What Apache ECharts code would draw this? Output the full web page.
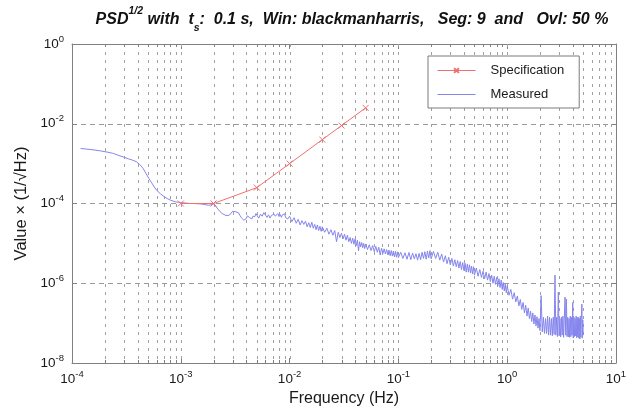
<!DOCTYPE html>
<html>
<head>
<meta charset="utf-8">
<script src="https://cdn.jsdelivr.net/npm/echarts@6/dist/echarts.min.js"></script>
<style>html,body{margin:0;padding:0;background:#fff;}#c{width:640px;height:415px;}</style>
</head>
<body>
<div id="c"></div>
<script>
// ---- data ----
const specFreq = [1e-3, 2e-3, 5e-3, 1e-2, 2e-2, 3e-2, 5e-2];
const specVal  = [1e-4, 1e-4, 2.5e-4, 1e-3, 4e-3, 9e-3, 2.5e-2];

const measured = [
  [1.2e-4,2.4e-3],[1.5e-4,2.25e-3],[1.8e-4,2.1e-3],[2.1e-4,1.95e-3],[2.4e-4,1.8e-3],[2.7e-4,1.6e-3],
  [3.0e-4,1.45e-3],[3.3e-4,1.32e-3],[3.6e-4,1.22e-3],[3.9e-4,1.12e-3],[4.2e-4,9.5e-4],[4.5e-4,7.6e-4],
  [4.8e-4,5.6e-4],[5.1e-4,4.2e-4],[5.4e-4,3.3e-4],[5.7e-4,2.6e-4],[6.0e-4,2.15e-4],[6.5e-4,1.75e-4],
  [7.0e-4,1.5e-4],[7.5e-4,1.33e-4],[8.0e-4,1.22e-4],[8.5e-4,1.15e-4],[9.0e-4,1.1e-4],[9.5e-4,1.07e-4],
  [1.0e-3,1.05e-4],[1.1e-3,1.03e-4],[1.2e-3,1.0e-4],[1.3e-3,1.0e-4],[1.4e-3,9.9e-5],[1.5e-3,9.8e-5],
  [1.6e-3,9.6e-5],[1.7e-3,9.3e-5],[1.8e-3,9.0e-5],[1.9e-3,9.3e-5],[2.0e-3,9.6e-5],[2.1e-3,8.5e-5],
  [2.2e-3,7.2e-5],[2.3e-3,6.2e-5],[2.4e-3,5.6e-5],[2.5e-3,5.2e-5],[2.6e-3,5.0e-5],[2.7e-3,4.9e-5],
  [2.8e-3,5.1e-5],[2.9e-3,5.6e-5],[3.0e-3,6.4e-5],[3.1e-3,6.6e-5],[3.2e-3,6.2e-5],[3.3e-3,6.5e-5],
  [3.4e-3,5.8e-5],[3.5e-3,5.0e-5],[3.6e-3,4.4e-5],[3.7e-3,4.0e-5],[3.8e-3,3.8e-5],[3.9e-3,3.7e-5],
  [4.0e-3,4.2e-5],[4.1e-3,4.9e-5],[4.2e-3,5.0e-5],[4.3e-3,4.4e-5],[4.4e-3,4.6e-5],[4.5e-3,4.1e-5],
  [4.6e-3,4.8e-5],[4.7e-3,5.3e-5],[4.8e-3,4.7e-5],[4.9e-3,5.6e-5],[5.0e-3,5.0e-5],[5.2e-3,4.3e-5],
  [5.4e-3,5.4e-5],[5.6e-3,4.8e-5],[5.8e-3,5.9e-5],[6.0e-3,5.1e-5],[6.2e-3,4.5e-5],[6.4e-3,5.2e-5],
  [6.6e-3,4.3e-5],[6.8e-3,5.0e-5],[7.0e-3,4.6e-5],[7.2e-3,5.4e-5],[7.4e-3,4.8e-5],[7.6e-3,5.1e-5],
  [7.8e-3,5.6e-5],[8.0e-3,4.7e-5],[8.2e-3,5.3e-5],[8.4e-3,4.5e-5],[8.6e-3,5.2e-5],[8.8e-3,4.9e-5],
  [9.0e-3,5.5e-5],[9.2e-3,4.4e-5],[9.4e-3,4.9e-5],[9.6e-3,4.1e-5],[9.8e-3,4.6e-5],
  [0.0100,4.8e-5],[0.0105,3.5e-5],[0.0110,4.4e-5],[0.0115,3.2e-5],[0.0120,4.0e-5],[0.0125,2.9e-5],
  [0.0130,3.7e-5],[0.0135,3.0e-5],[0.0140,3.6e-5],[0.0145,2.6e-5],[0.0150,3.3e-5],[0.0155,2.5e-5],
  [0.0160,3.4e-5],[0.0165,2.4e-5],[0.0170,3.0e-5],[0.0175,2.2e-5],[0.0180,2.9e-5],[0.0185,2.1e-5],
  [0.0190,2.7e-5],[0.0195,2.0e-5],[0.020,2.6e-5],[0.021,1.9e-5],[0.022,2.4e-5],[0.023,1.7e-5],
  [0.024,2.2e-5],[0.025,1.6e-5],[0.026,2.1e-5],[0.027,1.1e-5],[0.028,1.9e-5],[0.029,1.4e-5],
  [0.030,1.8e-5],[0.031,1.3e-5],[0.032,1.7e-5],[0.033,1.2e-5],[0.034,1.6e-5],[0.035,1.1e-5],
  [0.036,1.4e-5],[0.037,1.0e-5],[0.038,1.35e-5],[0.039,9.5e-6],[0.040,1.3e-5],[0.041,8.8e-6],
  [0.042,1.2e-5],[0.043,6.5e-6],[0.044,1.1e-5],[0.045,8.2e-6],[0.046,1.05e-5],[0.047,7.8e-6],
  [0.048,1.0e-5],[0.049,7.4e-6],[0.050,9.6e-6],[0.052,7.0e-6],[0.054,9.2e-6],[0.056,6.6e-6],
  [0.058,8.8e-6],[0.060,6.2e-6],[0.062,8.4e-6],[0.064,6.0e-6],[0.066,8.0e-6],[0.068,5.1e-6],
  [0.070,7.6e-6],[0.072,5.6e-6],[0.074,7.3e-6],[0.076,5.4e-6],[0.078,7.0e-6],[0.080,5.2e-6],
  [0.082,6.8e-6],[0.084,4.9e-6],[0.086,6.6e-6],[0.088,4.8e-6],[0.090,6.4e-6],[0.092,4.6e-6],
  [0.094,6.3e-6],[0.096,4.5e-6],[0.098,6.1e-6],
  [0.100,4.4e-6],[0.105,6.0e-6],[0.110,4.2e-6],[0.115,5.8e-6],[0.120,4.0e-6],[0.125,5.9e-6],
  [0.130,3.9e-6],[0.135,5.7e-6],[0.140,4.1e-6],[0.145,5.5e-6],[0.150,3.8e-6],[0.155,5.6e-6],
  [0.160,3.9e-6],[0.165,6.0e-6],[0.170,4.2e-6],[0.175,6.2e-6],[0.180,4.0e-6],[0.185,6.4e-6],
  [0.190,4.3e-6],[0.195,6.6e-6],[0.200,4.1e-6],[0.21,6.3e-6],[0.22,4.2e-6],[0.23,6.0e-6],
  [0.24,3.8e-6],[0.25,5.4e-6],[0.26,3.4e-6],[0.27,4.9e-6],[0.28,3.1e-6],[0.29,4.5e-6],
  [0.30,2.9e-6],[0.31,4.2e-6],[0.32,2.7e-6],[0.33,3.9e-6],[0.34,2.6e-6],[0.35,3.7e-6],
  [0.36,2.4e-6],[0.37,3.5e-6],[0.38,2.2e-6],[0.39,3.3e-6],[0.40,2.1e-6],[0.41,3.2e-6],
  [0.42,1.9e-6],[0.43,3.0e-6],[0.44,1.9e-6],[0.45,2.9e-6],[0.46,1.8e-6],[0.47,2.7e-6],
  [0.48,1.7e-6],[0.49,2.6e-6],[0.50,1.6e-6],[0.52,2.4e-6],[0.54,1.5e-6],[0.56,2.2e-6],
  [0.58,1.4e-6],[0.60,2.0e-6],[0.62,1.3e-6],[0.64,1.9e-6],[0.66,1.2e-6],[0.68,1.75e-6],
  [0.70,1.1e-6],[0.72,1.6e-6],[0.74,1.0e-6],[0.76,1.5e-6],[0.78,9.4e-7],[0.80,1.4e-6],
  [0.82,8.6e-7],[0.84,1.3e-6],[0.86,7.8e-7],[0.88,1.2e-6],[0.90,7.0e-7],[0.92,1.05e-6],
  [0.94,6.4e-7],[0.96,9.6e-7],[0.98,5.8e-7],[1.00,8.6e-7],[1.04,5.0e-7],[1.08,7.0e-7],
  [1.12,4.0e-7],[1.16,5.8e-7],[1.20,3.4e-7],[1.24,4.8e-7],[1.28,2.7e-7],[1.32,3.9e-7],
  [1.36,2.2e-7],[1.40,3.3e-7],[1.44,1.8e-7],[1.48,2.8e-7],[1.52,1.5e-7],[1.56,2.4e-7],
  [1.60,1.3e-7],[1.64,2.0e-7],[1.68,1.1e-7],[1.72,1.8e-7],[1.76,9.5e-8],[1.80,1.6e-7],
  [1.84,8.5e-8],[1.88,1.45e-7],[1.92,7.5e-8],[1.96,1.3e-7],[2.00,6.5e-8],[2.05,4.9e-7],
  [2.10,6.0e-8],[2.15,1.4e-7],[2.20,5.5e-8],[2.25,1.3e-7],[2.30,5.5e-8],[2.35,1.5e-7],
  [2.40,5.0e-8],[2.45,1.4e-7],[2.50,5.0e-8],[2.55,1.3e-7],[2.60,4.8e-8],[2.65,1.4e-7],
  [2.70,5.2e-8],[2.75,1.6e-6],[2.80,5.0e-8],[2.85,1.4e-7],[2.90,4.6e-8],[2.95,6.0e-7],
  [3.00,4.8e-8],[3.05,1.3e-7],[3.10,4.5e-8],[3.15,1.4e-7],[3.20,5.0e-8],[3.25,1.5e-7],
  [3.30,4.4e-8],[3.35,1.3e-7],[3.40,4.5e-7],[3.45,5.0e-8],[3.50,4.0e-7],[3.55,4.6e-8],
  [3.60,1.4e-7],[3.65,4.5e-8],[3.70,1.3e-7],[3.75,4.4e-8],[3.80,1.5e-7],[3.85,4.6e-8],
  [3.90,1.4e-7],[3.95,5.0e-8],[4.00,3.3e-7],[4.05,4.2e-8],[4.10,1.4e-7],[4.15,4.6e-8],
  [4.20,1.3e-7],[4.25,4.8e-8],[4.30,1.5e-7],[4.35,4.3e-8],[4.40,1.4e-7],[4.45,4.5e-8],
  [4.50,1.4e-7],[4.55,4.2e-8],[4.60,1.3e-7],[4.65,4.0e-8],[4.70,1.5e-7],[4.75,4.4e-8],
  [4.80,1.3e-7],[4.86,3.0e-7],[4.90,4.2e-8],[4.95,1.2e-7],[5.00,5.0e-8]
];

const xDecadeExps = [-4, -3, -2, -1, 0];          // decades with minor grid
const minorMultipliers = [1, 2, 3, 4, 5, 6, 7, 8, 9];
const titleParts = ['PSD', '1/2', ' with  t', 's', ':  0.1 s,  Win: blackmanharris,   Seg: 9  and   Ovl: 50 %'];
const seriesNames = ['Specification', 'Measured'];

// ---- chart ----
const FONT = 'Liberation Sans, Arial, sans-serif';
const gridLines = [];
xDecadeExps.forEach(e => minorMultipliers.forEach(m => {
  const f = m * Math.pow(10, e);
  if (!(e === -4 && m === 1)) gridLines.push([f, 1e-8, m]);
}));

const chart = echarts.init(document.getElementById('c'), null, {renderer: 'canvas'});
const powLabel = v => '{b|10}{e|' + Math.round(Math.log10(v)) + '}';
const labelRich = {
  b: {fontSize: 13.5, fontFamily: FONT, color: '#1a1a1a', lineHeight: 20},
  e: {fontSize: 9.5, fontFamily: FONT, color: '#1a1a1a', verticalAlign: 'top', lineHeight: 12}
};
const axisCommon = {
  type: 'log', logBase: 10,
  axisLine: {show: true, lineStyle: {color: '#808080', width: 1}},
  axisTick: {show: true, inside: true, length: 5, lineStyle: {color: '#808080'}},
  splitLine: {show: false},
  minorTick: {show: false}
};
const tStyle = {fontSize: 16, fontWeight: 'bold', fontStyle: 'italic', fontFamily: FONT, color: '#111'};

chart.setOption({
  animation: false,
  backgroundColor: '#ffffff',
  title: {
    text: '{b|' + titleParts[0] + '}{sup|' + titleParts[1] + '}{b|' + titleParts[2] + '}{sub|' + titleParts[3] + '}{b|' + titleParts[4] + '}',
    left: 347, top: 1, textAlign: 'center',
    textStyle: {
      rich: {
        b: Object.assign({}, tStyle, {lineHeight: 28}),
        sup: Object.assign({}, tStyle, {fontSize: 10.5, verticalAlign: 'top', lineHeight: 16}),
        sub: Object.assign({}, tStyle, {fontSize: 10.5, verticalAlign: 'bottom', lineHeight: 10})
      }
    }
  },
  legend: {
    left: 428, top: 56, orient: 'vertical',
    data: [
      {name: seriesNames[0]},
      {name: seriesNames[1], icon: 'path://M0,0H40V1H0Z'}
    ],
    backgroundColor: '#fff',
    borderColor: '#7a7a7a', borderWidth: 1, borderRadius: 0,
    padding: [8, 15, 7, 9],
    itemWidth: 38, itemHeight: 6, itemGap: 11,
    symbolKeepAspect: true,
    lineStyle: {width: 1},
    textStyle: {fontSize: 13, fontFamily: FONT, color: '#1a1a1a', padding: [0, 0, 0, 10]}
  },
  grid: {left: 72, top: 44, right: 24, bottom: 52, containLabel: false},
  xAxis: [
    Object.assign({}, axisCommon, {
      min: 1e-4, max: 10, interval: 1, position: 'bottom',
      name: 'Frequency (Hz)', nameLocation: 'middle', nameGap: 27,
      nameTextStyle: {fontSize: 16, fontFamily: FONT, color: '#1a1a1a'},
      axisLabel: {formatter: powLabel, rich: labelRich, margin: 6}
    }),
    Object.assign({}, axisCommon, {
      min: 1e-4, max: 10, interval: 1, position: 'top', axisLabel: {show: false}
    })
  ],
  yAxis: [
    Object.assign({}, axisCommon, {
      min: 1e-8, max: 1, interval: 2, position: 'left',
      name: 'Value × (1/√Hz)', nameLocation: 'middle', nameGap: 42, nameRotate: 90,
      nameTextStyle: {fontSize: 16.5, fontFamily: FONT, color: '#1a1a1a'},
      axisLabel: {formatter: powLabel, rich: labelRich, margin: 8},
      splitLine: {show: true, lineStyle: {color: '#9a9a9a', type: [5, 4], width: 1}}
    }),
    Object.assign({}, axisCommon, {
      min: 1e-8, max: 1, interval: 2, position: 'right', axisLabel: {show: false}
    })
  ],
  series: [
    {
      type: 'custom', name: 'grid', silent: true, z: 1,
      xAxisIndex: 0, yAxisIndex: 0,
      data: gridLines,
      encode: {x: 0, y: 1},
      renderItem: function (params, api) {
        const f = api.value(0);
        const top = api.coord([f, 1]);
        const bot = api.coord([f, 1e-8]);
        const x = Math.round(top[0]) + 0.5;
        const isMajor = api.value(2) === 1;
        const children = [{
          type: 'line',
          shape: {x1: x, y1: top[1], x2: x, y2: bot[1]},
          style: {stroke: '#a0a0a0', lineWidth: 1, lineDash: [3, 5]}
        }];
        if (!isMajor) {
          children.push({type: 'line', shape: {x1: x, y1: bot[1], x2: x, y2: bot[1] - 3}, style: {stroke: '#808080', lineWidth: 1}});
          children.push({type: 'line', shape: {x1: x, y1: top[1], x2: x, y2: top[1] + 3}, style: {stroke: '#808080', lineWidth: 1}});
        }
        return {type: 'group', children: children};
      }
    },
    {
      type: 'line', name: seriesNames[1], z: 3,
      data: measured,
      symbol: 'none', showSymbol: false,
      lineStyle: {color: '#8585ee', width: 1},
      itemStyle: {color: '#8585ee'},
      emphasis: {disabled: true}
    },
    {
      type: 'line', name: seriesNames[0], z: 10,
      data: specFreq.map((f, i) => [f, specVal[i]]),
      symbol: 'path://M0,0L10,10M10,0L0,10', symbolSize: 6,
      showSymbol: true,
      lineStyle: {color: '#f07070', width: 1},
      itemStyle: {color: '#f07070', borderColor: '#f07070', borderWidth: 1},
      emphasis: {disabled: true}
    }
  ]
});
</script>
</body>
</html>
